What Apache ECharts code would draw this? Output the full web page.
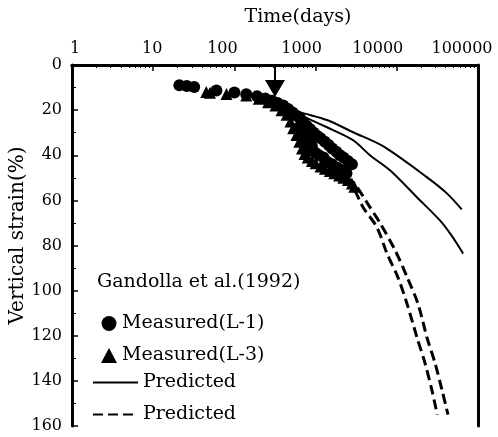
<!DOCTYPE html>
<html><head><meta charset="utf-8">
<script src="https://cdn.jsdelivr.net/npm/echarts@6/dist/echarts.min.js"></script>
<style>html,body{margin:0;padding:0;background:#fff}#c{width:498px;height:437px}</style>
</head><body><div id="c"></div>
<script>
const xTickValues = [1, 10, 100, 1000, 10000, 100000];
const yTickValues = [0, 20, 40, 60, 80, 100, 120, 140, 160];
const measuredL1 = [[21,9],[26,9.3],[32,9.8],[60,11.3],[100,12.2],[140,13],[190,13.8],[240,14.8],[290,15.8],[340,16.8],[400,18],[460,19.5],[520,21],[580,22.5],[640,23.5],[700,25],[780,27],[860,28.5],[950,30],[1050,31.5],[1150,32.5],[1300,34],[1450,35.5],[1600,37],[1800,38.5],[2000,40],[2200,41],[2500,42.5],[2800,44],[600,28],[650,31],[700,34],[760,36],[820,38],[900,36],[1000,39],[1100,40],[1250,41],[1400,43],[1600,44],[1850,45.5],[2100,46.5],[2400,48],[750,31],[850,33]];
const measuredL3 = [[45,12],[50,12.3],[80,12.8],[140,13.5],[200,15],[260,16.5],[320,18],[380,20],[440,22],[490,25],[530,28],[580,31],[630,34],[680,37],[730,39.5],[800,41],[900,42.5],[1000,43.5],[1150,45],[1300,46],[1500,47],[1700,48],[1950,49],[2200,50],[2500,51],[2800,52.5],[3000,54]];
const predSolidUpper = [[400,18],[644,20.9],[1380,24.4],[2890,29.8],[6760,36],[23600,49.8],[41400,56.9],[63100,64]];
const predSolidLower = [[400,19],[644,22.2],[1380,27.6],[2890,33.3],[4680,40],[8250,46.7],[17800,58.7],[34000,68.9],[49000,76.4],[65600,83.6]];
const predDashLeft = [[2400,50],[2890,54],[3840,63],[5700,72],[7580,83.6],[10300,94],[13400,106],[17800,121],[22200,132],[27000,144],[31500,155]];
const predDashRight = [[2400,50],[3070,53],[4290,61],[6200,70],[9500,82],[13400,94],[18300,106],[23600,121],[29500,132],[36000,144],[42700,155]];
const arrowStem = [[316,0],[316,7]];
const arrowHead = [[316,10.4]];

const FONT = 'DejaVu Serif';
const labelShift = [3, -1, -12, -14, -19, -16];
const rich = {};
labelShift.forEach((s, i) => {
  rich['t' + i] = {fontFamily: FONT, fontSize: 16, color: '#000',
    padding: s >= 0 ? [0, 0, 0, 2 * s] : [0, -2 * s, 0, 0]};
});

const chart = echarts.init(document.getElementById('c'));
chart.setOption({
  animation: false,
  grid: {left: 72, right: 20, top: 65, bottom: 11, containLabel: false, outerBoundsMode: 'none'},
  xAxis: [{
    type: 'log', logBase: 10, min: 1, max: 100000, position: 'top',
    name: 'Time(days)', nameLocation: 'middle', nameGap: 38,
    nameTextStyle: {fontFamily: FONT, fontSize: 19, color: '#000', padding: [0, 0, 0, 46]},
    axisLine: {show: true, lineStyle: {color: '#000', width: 3}},
    axisTick: {show: true, inside: true, length: 6, lineStyle: {color: '#000', width: 1.5}},
    minorTick: {show: true, splitNumber: 9, length: 3, lineStyle: {color: '#000', width: 1}},
    splitLine: {show: false},
    axisLabel: {margin: 8, color: '#000', fontFamily: FONT, fontSize: 16, rich: rich,
      formatter: v => { const i = Math.round(Math.log10(v)); return '{t' + i + '|' + v + '}'; }}
  }, {
    type: 'log', logBase: 10, min: 1, max: 100000, position: 'bottom',
    axisLine: {show: true, lineStyle: {color: '#000', width: 3}},
    axisTick: {show: false}, axisLabel: {show: false}, splitLine: {show: false}
  }],
  yAxis: [{
    type: 'value', min: 0, max: 160, interval: 20, inverse: true,
    name: 'Vertical strain(%)', nameLocation: 'middle', nameGap: 44, nameMoveOverlap: false,
    nameTextStyle: {fontFamily: FONT, fontSize: 20, color: '#000', padding: [0, 0, 0, 20]},
    axisLine: {show: true, lineStyle: {color: '#000', width: 3}},
    axisTick: {show: true, inside: true, length: 6, lineStyle: {color: '#000', width: 1.5}},
    minorTick: {show: true, splitNumber: 2, length: 4, lineStyle: {color: '#000', width: 1}},
    splitLine: {show: false},
    axisLabel: {margin: 10, color: '#000', fontFamily: FONT, fontSize: 16,
      formatter: v => yTickValues.indexOf(v) >= 0 ? String(v) : ''}
  }, {
    type: 'value', min: 0, max: 160, inverse: true, position: 'right',
    axisLine: {show: true, lineStyle: {color: '#000', width: 3}},
    axisTick: {show: false}, axisLabel: {show: false}, splitLine: {show: false}
  }],
  legend: [{
    data: ['Measured(L-1)', 'Measured(L-3)'],
    orient: 'vertical', left: 101, top: 314, padding: 0, itemWidth: 16, itemHeight: 15, itemGap: 13,
    textStyle: {fontFamily: FONT, fontSize: 19, color: '#000'},
    selectedMode: false
  }, {
    data: ['PredSolid', 'PredDash'],
    orient: 'vertical', left: 92, top: 373, padding: 0, itemWidth: 45, itemHeight: 16, itemGap: 13,
    itemStyle: {opacity: 0},
    textStyle: {fontFamily: FONT, fontSize: 19, color: '#000'},
    formatter: () => 'Predicted',
    selectedMode: false
  }],
  graphic: [{
    type: 'text', left: 97, top: 273,
    style: {text: 'Gandolla et al.(1992)', font: '19px "DejaVu Serif"', fill: '#000'}
  }],
  series: [
    {name: 'PredSolid', type: 'line', data: predSolidUpper, smooth: 0.3, symbol: 'none',
      lineStyle: {color: '#000', width: 2}, itemStyle: {color: '#000'}},
    {name: 'PredSolid', type: 'line', data: predSolidLower, smooth: 0.3, symbol: 'none',
      lineStyle: {color: '#000', width: 2}, itemStyle: {color: '#000'}},
    {name: 'PredDash', type: 'line', data: predDashLeft, smooth: 0.3, symbol: 'none',
      lineStyle: {color: '#000', width: 3, type: [10, 5]}, itemStyle: {color: '#000'}},
    {name: 'PredDash', type: 'line', data: predDashRight, smooth: 0.3, symbol: 'none',
      lineStyle: {color: '#000', width: 3, type: [10, 5]}, itemStyle: {color: '#000'}},
    {name: 'Measured(L-1)', type: 'scatter', data: measuredL1, symbol: 'circle', symbolSize: 12,
      itemStyle: {color: '#000', opacity: 1}},
    {name: 'Measured(L-3)', type: 'scatter', data: measuredL3, symbol: 'triangle', symbolSize: 12,
      itemStyle: {color: '#000', opacity: 1}},
    {name: 'arrowStem', type: 'line', data: arrowStem, symbol: 'none',
      lineStyle: {color: '#000', width: 2}},
    {name: 'arrowHead', type: 'scatter', data: arrowHead, symbol: 'triangle', symbolRotate: 180,
      symbolSize: [20, 17], itemStyle: {color: '#000', opacity: 1}}
  ]
});
</script></body></html>
